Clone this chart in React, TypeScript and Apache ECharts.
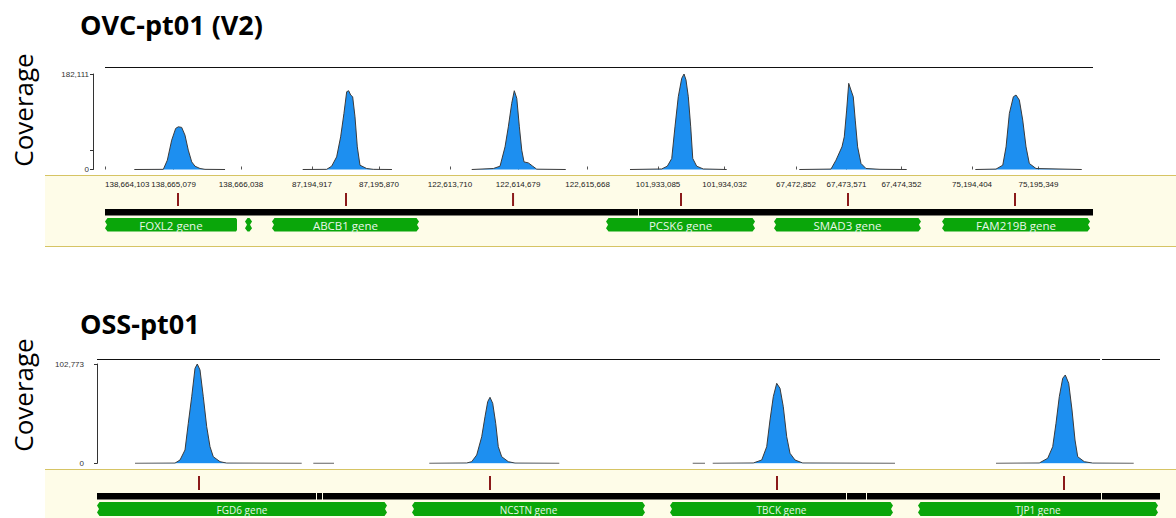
import React, { useEffect, useRef } from 'react';
import * as echarts from 'echarts';

// ---------- OVC-pt01 (V2): six amplicon windows, shared depth scale ----------
const ovcTitle = 'OVC-pt01 (V2)';
const ovcMaxDepth = 182111;
const ovcDepthTicks = [0, 37000, 182111];
const ovcWindowStarts = [138664103, 87194315, 122613487, 101932245, 67472392, 75193782];
const ovcWindowSpans = [2343, 2343, 2343, 2343, 2343, 2343];
const ovcRulerTicks = [
  [138664103, 138665079, 138666038],
  [87194917, 87195870],
  [122613710, 122614679, 122615668],
  [101933085, 101934032],
  [67472852, 67473571, 67474352],
  [75194404, 75195349],
];
// depth profiles: [offset from window start (bp), read depth]
const ovcCovFoxl2 = [[417, 0], [830, 300], [887, 17800], [949, 56000], [1006, 78400], [1043, 81400], [1091, 80300], [1138, 65500], [1185, 36900], [1234, 14500], [1281, 6300], [1352, 1900], [1423, 300], [1708, 0]];
const ovcCovAbcb1 = [[470, 0], [811, 300], [882, 6300], [953, 24100], [1010, 62300], [1057, 107000], [1096, 148300], [1124, 150200], [1153, 142000], [1181, 138700], [1214, 100500], [1247, 43200], [1285, 8200], [1380, 1900], [1474, 300], [1740, 0]];
const ovcCovWin3 = [[532, 0], [840, 1900], [935, 6300], [1006, 43200], [1053, 81400], [1101, 126100], [1138, 150200], [1173, 135700], [1210, 81400], [1244, 36900], [1276, 14500], [1338, 12600], [1400, 6300], [1457, 600], [1870, 0]];
const ovcCovPcsk6 = [[441, 0], [892, 1000], [972, 6300], [1035, 21000], [1081, 81400], [1128, 138700], [1177, 173900], [1210, 182111], [1238, 170700], [1271, 138700], [1305, 81400], [1334, 21000], [1390, 6300], [1484, 1000], [1817, 0]];
const ovcCovSmad3 = [[507, 0], [958, 800], [1029, 17800], [1114, 43200], [1147, 62300], [1181, 113300], [1210, 164300], [1242, 151500], [1275, 138700], [1303, 94200], [1337, 43200], [1385, 11500], [1456, 1900], [1655, 300], [2035, 0]];
const ovcCovFam219b = [[669, 0], [963, 800], [1059, 8200], [1106, 43200], [1153, 107000], [1210, 138700], [1248, 142000], [1295, 132400], [1343, 94200], [1390, 43200], [1437, 11500], [1532, 1900], [2183, 0]];
const ovcVariantOffsets = [1039, 1086, 1120, 1167, 1200, 1233];
const ovcTargets = [
  [[0, 2343]],
  [[0, 2343]],
  [[0, 2343]],
  [[0, 562], [576, 2343]],
  [[0, 2343]],
  [[0, 2343]],
];
const ovcGenes = [
  { win: 0, name: 'FOXL2 gene', from: 0, to: 1878, open: [true, false] },
  { win: 0, name: '', from: 1992, to: 2092, open: [true, true] },
  { win: 1, name: 'ABCB1 gene', from: 33, to: 2125, open: [true, true] },
  { win: 3, name: 'PCSK6 gene', from: 100, to: 2220, open: [true, true] },
  { win: 4, name: 'SMAD3 gene', from: 147, to: 2238, open: [true, true] },
  { win: 5, name: 'FAM219B gene', from: 195, to: 2301, open: [true, true] },
];

// ---------- OSS-pt01: four windows, positions relative to window start ----------
const ossTitle = 'OSS-pt01';
const ossMaxDepth = 102773;
const ossDepthTicks = [0, 102773];
const ossWindowStarts = [0, 0, 0, 0];
const ossWindowSpans = [4242, 3598, 3486, 3556];
const ossCovFgd6 = [[532, 0], [1092, 200], [1162, 3400], [1232, 13800], [1278, 41400], [1326, 68900], [1372, 98300], [1404, 102773], [1442, 96600], [1488, 68900], [1536, 37900], [1582, 17200], [1628, 6800], [1722, 1700], [1816, 200], [2866, 0], [2947, null], [3028, 0], [3318, 0]];
const ossCovNcstn = [[410, 0], [934, 300], [1004, 1700], [1074, 8600], [1144, 27500], [1190, 48200], [1228, 63800], [1260, 68300], [1298, 62100], [1340, 41400], [1376, 17200], [1424, 6800], [1516, 1700], [1610, 200], [2230, 0]];
const ossCovTbck = [[500, 0], [672, 0], [726, null], [780, 0], [1348, 300], [1466, 3400], [1536, 17200], [1582, 44800], [1628, 68900], [1676, 82800], [1722, 77600], [1768, 58600], [1816, 27500], [1862, 10400], [1932, 3400], [2040, 300], [3332, 0]];
const ossCovTjp1 = [[1260, 0], [1866, 300], [1984, 5200], [2054, 17200], [2100, 41400], [2146, 68900], [2194, 88000], [2230, 91400], [2278, 82800], [2324, 55200], [2366, 24100], [2404, 6800], [2496, 1700], [2614, 200], [3188, 0]];
const ossVariantOffsets = [1428, 1260, 1680, 2212];
const ossTargets = [
  [[0, 3059], [3073, 3143], [3157, 4242]],
  [[0, 3598]],
  [[0, 2639], [2653, 2919], [2933, 3486]],
  [[0, 2723], [2737, 3556]],
];
const ossGenes = [
  { win: 0, name: 'FGD6 gene', from: 0, to: 4060, open: [true, true] },
  { win: 1, name: 'NCSTN gene', from: 168, to: 3430, open: [true, true] },
  { win: 2, name: 'TBCK gene', from: 182, to: 3304, open: [true, true] },
  { win: 3, name: 'TJP1 gene', from: 168, to: 3528, open: [true, true] },
];

// ---------- styling / layout ----------
const COVER_FILL = '#1d8ff0';
const COVER_LINE = '#3b3b3b';
const VARIANT_RED = '#8b1a1a';
const GENE_GREEN = '#0aa60a';
const BAND_FILL = '#fefce8';
const BAND_EDGE = '#d6c464';

const ovcLayout = {
  left: 105, right: 1093, top: 74, bottom: 169.5, axisGap: 12, rulerOffset: 23.5,
  variantY: 193, variantH: 13, barY: 209, barH: 6.5, geneY: 218, geneH: 13.5, geneFont: 11.5,
  frame: [[105, 1093]], frameY: 67.5, bandTop: 175, bandBottom: 247 as number | null,
  titleY: 24, sideY: 110,
};
const ossLayout = {
  left: 97, right: 1160, top: 364, bottom: 463.3, axisGap: 9, rulerOffset: 0,
  variantY: 476, variantH: 14, barY: 493, barH: 6.5, geneY: 502, geneH: 14, geneFont: 10,
  frame: [[97, 1100], [1102, 1160]], frameY: 359.5, bandTop: 469, bandBottom: null as number | null,
  titleY: 323, sideY: 395,
};

const panels = [
  {
    title: ovcTitle, maxDepth: ovcMaxDepth, depthTicks: ovcDepthTicks,
    starts: ovcWindowStarts, spans: ovcWindowSpans, ruler: ovcRulerTicks as number[][] | null,
    coverage: [ovcCovFoxl2, ovcCovAbcb1, ovcCovWin3, ovcCovPcsk6, ovcCovSmad3, ovcCovFam219b],
    variants: ovcVariantOffsets, targets: ovcTargets, genes: ovcGenes, layout: ovcLayout,
  },
  {
    title: ossTitle, maxDepth: ossMaxDepth, depthTicks: ossDepthTicks,
    starts: ossWindowStarts, spans: ossWindowSpans, ruler: null as number[][] | null,
    coverage: [ossCovFgd6, ossCovNcstn, ossCovTbck, ossCovTjp1],
    variants: ossVariantOffsets, targets: ossTargets, genes: ossGenes, layout: ossLayout,
  },
];

const fmt = (v: number) => Math.round(v).toLocaleString('en-US');

// gene block outline; open ends get a ragged edge
function genePoints(x1: number, x2: number, y: number, h: number, openL: boolean, openR: boolean) {
  const j = 2.5;
  const pts: number[][] = [];
  if (openL) pts.push([x1 + j, y], [x1, y + h * 0.25], [x1 + j * 0.8, y + h * 0.5], [x1, y + h * 0.75], [x1 + j, y + h]);
  else pts.push([x1 + 1, y], [x1, y + 1.5], [x1, y + h - 1.5], [x1 + 1, y + h]);
  if (openR) pts.push([x2 - j, y + h], [x2, y + h * 0.75], [x2 - j * 0.8, y + h * 0.5], [x2, y + h * 0.25], [x2 - j, y]);
  else pts.push([x2 - 1, y + h], [x2, y + h - 1.5], [x2, y + 1.5], [x2 - 1, y]);
  return pts;
}

function buildOption() {
  const grid: any[] = [];
  const xAxis: any[] = [];
  const yAxis: any[] = [];
  const series: any[] = [];
  const graphic: any[] = [];

  panels.forEach((p) => {
    const L = p.layout;
    const total = p.spans.reduce((a, b) => a + b, 0);
    const pxPerBp = (L.right - L.left) / total;
    let acc = 0;

    p.spans.forEach((span, w) => {
      const x1 = L.left + acc * pxPerBp;
      acc += span;
      const x2 = L.left + acc * pxPerBp;
      const idx = grid.length;
      const start = p.starts[w];
      const ticks = p.ruler ? p.ruler[w] : null;

      grid.push({ left: x1, top: L.top, width: x2 - x1, height: L.bottom - L.top });

      xAxis.push({
        gridIndex: idx, type: 'value', min: start, max: start + span,
        show: !!ticks, position: 'bottom', offset: L.rulerOffset, z: 1,
        axisLine: { show: false },
        splitLine: { show: false },
        axisTick: ticks
          ? { show: true, inside: true, length: 3, customValues: ticks, lineStyle: { color: '#555', width: 1 } }
          : { show: false },
        axisLabel: ticks
          ? {
              show: true, inside: true, margin: 5, customValues: ticks, formatter: fmt,
              showMinLabel: true, showMaxLabel: true, hideOverlap: false,
              fontSize: 8, fontFamily: 'Liberation Sans', color: '#222',
              alignMinLabel: w === 0 ? 'left' : null,
            }
          : { show: false },
      });

      yAxis.push({
        gridIndex: idx, type: 'value', min: 0, max: p.maxDepth,
        show: w === 0, position: 'left', offset: L.axisGap,
        axisLine: { show: true, lineStyle: { color: '#333', width: 1 } },
        axisTick: { show: true, length: 3, customValues: p.depthTicks, lineStyle: { color: '#333' } },
        axisLabel: {
          show: true, customValues: [0, p.maxDepth], formatter: fmt, margin: 4,
          showMinLabel: true, showMaxLabel: true,
          fontSize: 8, fontFamily: 'Liberation Sans', color: '#333',
        },
        splitLine: { show: false },
      });

      // read depth
      series.push({
        type: 'line', xAxisIndex: idx, yAxisIndex: idx, silent: true, z: 3,
        data: p.coverage[w].map(([o, d]) => [start + (o as number), d]),
        symbol: 'none', connectNulls: false,
        lineStyle: { color: COVER_LINE, width: 1 },
        areaStyle: { color: COVER_FILL, opacity: 1 },
      });

      // target regions (black bar)
      series.push({
        type: 'custom', xAxisIndex: idx, yAxisIndex: idx, silent: true, clip: false,
        data: p.targets[w].map(([a, b]) => [start + a, start + b]),
        renderItem: (_params: any, api: any) => {
          const xa = Math.round(api.coord([api.value(0), 0])[0]);
          const xb = Math.round(api.coord([api.value(1), 0])[0]);
          return { type: 'rect', shape: { x: xa, y: L.barY, width: xb - xa, height: L.barH }, style: { fill: '#000' } };
        },
      });

      // variant site
      series.push({
        type: 'custom', xAxisIndex: idx, yAxisIndex: idx, silent: true, clip: false,
        data: [[start + p.variants[w], 0]],
        renderItem: (_params: any, api: any) => {
          const x = api.coord([api.value(0), 0])[0];
          return { type: 'rect', shape: { x: x - 1, y: L.variantY, width: 2, height: L.variantH }, style: { fill: VARIANT_RED } };
        },
      });

      // gene annotations
      const genes = p.genes.filter((g) => g.win === w);
      if (genes.length) {
        series.push({
          type: 'custom', xAxisIndex: idx, yAxisIndex: idx, silent: true, clip: false,
          data: genes.map((g) => [start + g.from, start + g.to]),
          renderItem: (params: any, api: any) => {
            const g = genes[params.dataIndex];
            const cs = params.coordSys;
            const ga = Math.max(api.coord([api.value(0), 0])[0], cs.x);
            const gb = Math.min(api.coord([api.value(1), 0])[0], cs.x + cs.width);
            const children: any[] = [
              { type: 'polygon', shape: { points: genePoints(ga, gb, L.geneY, L.geneH, g.open[0], g.open[1]) }, style: { fill: GENE_GREEN } },
            ];
            if (g.name) {
              children.push({
                type: 'text',
                style: {
                  text: g.name, x: (ga + gb) / 2, y: L.geneY + L.geneH / 2 + 0.5,
                  align: 'center', verticalAlign: 'middle',
                  fill: '#e9f7e9', font: `${L.geneFont}px "Open Sans"`,
                },
              });
            }
            return { type: 'group', children };
          },
        });
      }
    });

    // annotation band
    const bandH = (L.bandBottom ?? 520) - L.bandTop;
    graphic.push({ type: 'rect', z: -1, silent: true, shape: { x: 45, y: L.bandTop, width: 1135, height: bandH }, style: { fill: BAND_FILL } });
    graphic.push({ type: 'line', z: -1, silent: true, shape: { x1: 45, y1: L.bandTop + 0.5, x2: 1180, y2: L.bandTop + 0.5 }, style: { stroke: BAND_EDGE, lineWidth: 1 } });
    if (L.bandBottom != null) {
      graphic.push({ type: 'line', z: -1, silent: true, shape: { x1: 45, y1: L.bandBottom - 0.5, x2: 1180, y2: L.bandBottom - 0.5 }, style: { stroke: BAND_EDGE, lineWidth: 1 } });
    }

    // track frame line
    L.frame.forEach(([a, b]) => {
      graphic.push({ type: 'line', silent: true, shape: { x1: a, y1: L.frameY, x2: b, y2: L.frameY }, style: { stroke: '#111', lineWidth: 1 } });
    });

    // sample title
    graphic.push({
      type: 'text', silent: true,
      style: { text: p.title, x: 80, y: L.titleY, align: 'left', verticalAlign: 'middle', fill: '#000', font: 'bold 27px "Open Sans"' },
    });
    // side label
    graphic.push({
      type: 'text', silent: true, x: 23, y: L.sideY, rotation: Math.PI / 2,
      style: { text: 'Coverage', x: 0, y: 0, align: 'center', verticalAlign: 'middle', fill: '#000', font: '26px "Open Sans"' },
    });
  });

  return { animation: false, backgroundColor: '#fff', grid, xAxis, yAxis, series, graphic };
}

export default function App() {
  const ref = useRef<HTMLDivElement>(null);
  useEffect(() => {
    if (!ref.current) return;
    const chart = echarts.init(ref.current, undefined, { renderer: 'svg' });
    chart.setOption(buildOption() as any);
    return () => chart.dispose();
  }, []);
  return (
    <div
      ref={ref}
      style={{ position: 'fixed', left: 0, top: 0, width: 1176, height: 518, background: '#fff' }}
    />
  );
}
